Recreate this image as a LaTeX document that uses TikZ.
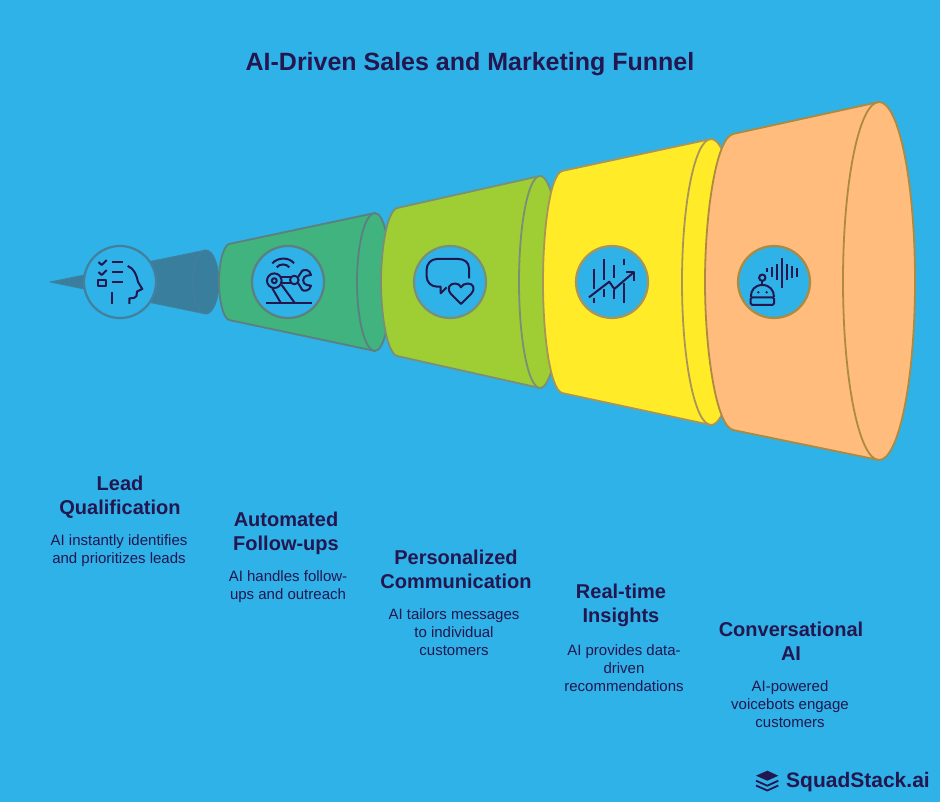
\documentclass[tikz,border=0pt]{standalone}
\usepackage{fontspec}
\setmainfont{Liberation Sans}
\definecolor{bgblue}{HTML}{2EB2E8}
\definecolor{ink}{HTML}{24164F}
\definecolor{fillA}{HTML}{3A7E9E}
\definecolor{lineA}{HTML}{447F9E}
\definecolor{fillB}{HTML}{40B37E}
\definecolor{lineB}{HTML}{5C7F80}
\definecolor{fillC}{HTML}{9ECE33}
\definecolor{lineC}{HTML}{7A8F78}
\definecolor{fillD}{HTML}{FFEB28}
\definecolor{lineD}{HTML}{A8955A}
\definecolor{fillE}{HTML}{FFBC7D}
\definecolor{lineE}{HTML}{AE8A3F}
\tikzset{
  seg/.style={line width=1.8pt,line join=round},
  ring/.style={circle,fill=bgblue,minimum size=72pt,inner sep=0pt,line width=2.2pt},
  ico/.style={draw=ink,line width=2pt,line join=round,fill=none},
  head/.style={text=ink,align=center,font=\fontsize{20}{24}\selectfont\bfseries},
  desc/.style={text=ink,align=center,font=\fontsize{15}{18}\selectfont},
}
\begin{document}
\begin{tikzpicture}[x=1pt,y=-1pt]
\useasboundingbox (0,0) rectangle (940,802);
\fill[bgblue] (0,0) rectangle (940,802);
\node[text=ink,font=\fontsize{25}{30}\selectfont\bfseries] (title) at (470,64) {AI-Driven Sales and Marketing Funnel};

% funnel segments
\draw[seg,draw=lineA,fill=fillA,line width=0.8pt] (50,282) -- (206,250) arc[start angle=90,end angle=-90,x radius=13pt,y radius=32pt] -- cycle;
\draw[draw=lineA,line width=1pt] (206,250) arc[start angle=90,end angle=270,x radius=13pt,y radius=32pt];

\draw[seg,draw=lineB,fill=fillB] (229,244) -- (375,213) arc[start angle=90,end angle=-90,x radius=16pt,y radius=69pt] -- (229,320) .. controls (223,318) and (219,300) .. (219,282) .. controls (219,264) and (223,246) .. (229,244) -- cycle;
\draw[seg,draw=lineB] (375,213) arc[start angle=90,end angle=270,x radius=18pt,y radius=69pt];

\draw[seg,draw=lineC,fill=fillC] (397,208) -- (540,176) arc[start angle=90,end angle=-90,x radius=21pt,y radius=106pt] -- (397,356) .. controls (387,353) and (381,315) .. (381,282) .. controls (381,249) and (387,211) .. (397,208) -- cycle;
\draw[seg,draw=lineC] (540,176) arc[start angle=90,end angle=270,x radius=21pt,y radius=106pt];

\draw[seg,draw=lineD,fill=fillD] (562,171) -- (711,139) arc[start angle=90,end angle=-90,x radius=29pt,y radius=143pt] -- (562,393) .. controls (550,389) and (543,335) .. (543,282) .. controls (543,229) and (550,175) .. (562,171) -- cycle;
\draw[seg,draw=lineD] (711,139) arc[start angle=90,end angle=270,x radius=29pt,y radius=143pt];

\draw[seg,draw=lineE,fill=fillE] (733,134) -- (879,102) arc[start angle=90,end angle=-90,x radius=36pt,y radius=179pt] -- (733,430) .. controls (716,426) and (705,350) .. (705,282) .. controls (705,214) and (716,138) .. (733,134) -- cycle;
\draw[seg,draw=lineE] (879,102) arc[start angle=90,end angle=270,x radius=36pt,y radius=179pt];

% icon rings
\node[ring,draw=lineA] (ringA) at (120,282) {};
\node[ring,draw=lineB] (ringB) at (288,282) {};
\node[ring,draw=lineC] (ringC) at (450,282) {};
\node[ring,draw=lineD] (ringD) at (612,282) {};
\node[ring,draw=lineE] (ringE) at (774,282) {};

% icon A: checklist and head
\draw[ico] (98.5,262) -- (101.7,265) -- (106.7,260);
\draw[ico] (98.5,272) -- (101.7,275) -- (106.7,270);
\draw[ico] (98.3,280) rectangle (105.7,286.5);
\draw[ico] (112.3,262) -- (123,262);
\draw[ico] (112.3,272) -- (123,272);
\draw[ico] (112.3,282.5) -- (123,282.5);
\draw[ico] (111.7,292) -- (111.7,304);
\draw[ico] (127.7,266) .. controls (134,268) and (137,276) .. (138,282) -- (142.3,289) -- (137,291.5) -- (136.5,296) .. controls (136,298) and (133,298.3) .. (129.3,298.3) -- (129.3,304);

% icon B: robot arm
\draw[ico] (272.3,263.3) .. controls (278,257) and (289,257) .. (294,263.3);
\draw[ico] (276.7,267.3) .. controls (280,263.5) and (286,263.5) .. (289.3,267.3);
\draw[ico] (274.3,280.7) circle[radius=7.3pt];
\draw[ico] (274.3,280.7) circle[radius=2.5pt];
\draw[ico] (294.3,280) circle[radius=4.3pt];
\draw[ico] (280,277.3) -- (291,277.3);
\draw[ico] (280,283.3) -- (291,283.3);
\draw[ico] (272.3,288.3) -- (281,303.3);
\draw[ico] (281.7,285) -- (295,303.3);
\draw[ico] (265.7,303.3) -- (311.7,303.3);
\draw[ico] (298.3,276.7) -- (302.3,270.7) .. controls (304,269.5) and (310,269) .. (311,275) -- (306.7,275.7) .. controls (302,276.5) and (302,284) .. (306.7,285) -- (311,285.7) .. controls (310,291) and (304,291.5) .. (302.3,290) -- (298.3,283.3);

% icon C: speech bubble and heart
\draw[ico] (469,278.3) -- (469,268.3) .. controls (469,262) and (464,259) .. (458.3,259) -- (436.7,259) .. controls (431,259) and (426.7,264) .. (426.7,269.3) -- (426.7,276.7) .. controls (426.7,282) and (431,286.7) .. (437.3,286.7) -- (440.7,286.7) -- (440.7,293.3) -- (446.7,287.3);
\draw[ico] (461,304) -- (451,294) .. controls (446,288) and (450,283.5) .. (455,283.5) .. controls (458,283.5) and (460,285) .. (461,287.3) .. controls (462,285) and (464.5,283.5) .. (467.7,283.5) .. controls (473,283.5) and (476,288) .. (471,294) -- cycle;

% icon D: bars and trend arrow
\draw[ico] (594.3,269.3) -- (594.3,289.5);
\draw[ico] (594.3,298) -- (594.3,303.5);
\draw[ico] (604.3,259) -- (604.3,280);
\draw[ico] (604.3,289.5) -- (604.3,297);
\draw[ico] (614.3,265) -- (614.3,278.3);
\draw[ico] (614.3,290) -- (614.3,299);
\draw[ico] (624.3,259) -- (624.3,265);
\draw[ico] (624.3,283) -- (624.3,303.5);
\draw[ico] (589,297.3) -- (609.3,281.7) -- (614.3,289) -- (633.3,272.7);
\draw[ico] (626,272.3) -- (634.3,272.3) -- (634.3,280.7);

% icon E: voicebot
\draw[ico] (766.7,268.3) -- (766.7,271.7);
\draw[ico] (771.7,266.7) -- (771.7,277.3);
\draw[ico] (776.7,264.3) -- (776.7,280);
\draw[ico] (782,258.3) -- (782,288);
\draw[ico] (787.3,264) -- (787.3,280);
\draw[ico] (792.3,266) -- (792.3,277.7);
\draw[ico] (797.3,268.3) -- (797.3,277.3);
\draw[ico] (762.3,277.7) circle[radius=3.2pt];
\draw[ico] (762.3,281) -- (762.3,285);
\draw[ico] (750.8,297) .. controls (750.8,290) and (755,285) .. (762.3,285) .. controls (769.5,285) and (774,290) .. (774,297);
\draw[ico,rounded corners=1.5pt] (750.7,297.3) rectangle (774,305);
\fill[ink] (758.3,292.3) circle[radius=1.3pt] (766.7,292.3) circle[radius=1.3pt];

% labels
\node[head] (h1) at (120,497.5) {Lead\\Qualification};
\node[desc] (d1) at (119,551) {AI instantly identifies\\and prioritizes leads};
\node[head] (h2) at (286,533.5) {Automated\\Follow-ups};
\node[desc] (d2) at (288,587) {AI handles follow-\\ups and outreach};
\node[head] (h3) at (456,569) {Personalized\\Communication};
\node[desc] (d3) at (454,632) {AI tailors messages\\to individual\\customers};
\node[head] (h4) at (621,605.5) {Real-time\\Insights};
\node[desc] (d4) at (624,668) {AI provides data-\\driven\\recommendations};
\node[head] (h5) at (791,641) {Conversational\\AI};
\node[desc] (d5) at (790,704) {AI-powered\\voicebots engage\\customers};

% logo
\fill[ink] (756,775.7) -- (767.3,770.7) -- (778.3,775.7) -- (767.3,780.7) -- cycle;
\draw[ink,line width=1.8pt] (756,780.7) -- (767.3,785.7) -- (778.3,780.7);
\draw[ink,line width=1.8pt] (756,785.5) -- (767.3,790.5) -- (778.3,785.5);
\node[anchor=west,inner sep=0pt,text=ink,font=\fontsize{21}{24}\selectfont\bfseries] (logo) at (786,782) {SquadStack.ai};
\end{tikzpicture}
\end{document}
